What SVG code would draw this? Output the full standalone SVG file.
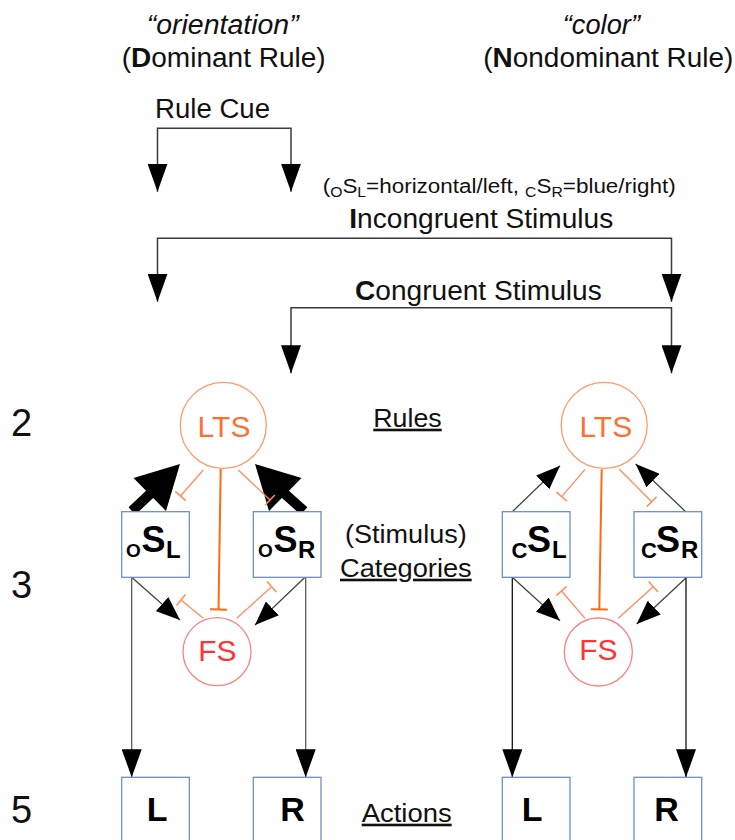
<svg xmlns="http://www.w3.org/2000/svg" width="735" height="840" viewBox="0 0 735 840">
<style>
text{font-family:"Liberation Sans",Arial,sans-serif;fill:#111}
.hd{font-size:27px}
.it{font-style:italic}
.b{font-weight:bold}
.lbl{font-size:26px}
.num{font-size:38px}
.ul{text-decoration:underline}
.ltsC{fill:none;stroke:#ff9966;stroke-width:1.3}
.fsC{fill:none;stroke:#ff7f7f;stroke-width:1.3}
.ltsT{font-size:30px;fill:#ff7030;text-anchor:middle}
.fsT{font-size:30px;fill:#ff3333;text-anchor:middle}
.box{fill:#fff;stroke:#6d8fc6;stroke-width:1.3}
.cat{font-weight:bold;fill:#000}
.act{font-size:34px;font-weight:bold;text-anchor:middle;fill:#000}
.br{fill:none;stroke:#3a3a3a;stroke-width:1.5}
.thin{fill:none;stroke:#444;stroke-width:1.3}
.inh{fill:none;stroke:#ff8c5a;stroke-width:1.3}
.inh2{fill:none;stroke:#ff6a10;stroke-width:2}
</style>
<defs>
<marker id="big" viewBox="0 0 28 20" refX="28" refY="10" markerWidth="28" markerHeight="20" markerUnits="userSpaceOnUse" orient="auto-start-reverse">
<path d="M0,0 L28,10 L0,20 z" fill="#000"/>
</marker>
<marker id="sm" viewBox="0 0 24 19" refX="24" refY="9.5" markerWidth="24" markerHeight="19" markerUnits="userSpaceOnUse" orient="auto">
<path d="M0,0 L24,9.5 L0,19 z" fill="#000"/>
</marker>
<marker id="tb" viewBox="-3 -9 6 18" refX="0" refY="0" markerWidth="6" markerHeight="18" markerUnits="userSpaceOnUse" orient="auto">
<path d="M0,-7 V7" stroke="#ff8c5a" stroke-width="1.5" fill="none"/>
</marker>
<marker id="tb2" viewBox="-3 -10 6 20" refX="0" refY="0" markerWidth="6" markerHeight="20" markerUnits="userSpaceOnUse" orient="auto">
<path d="M0,-8.5 V8.5" stroke="#ff6a10" stroke-width="2" fill="none"/>
</marker>
</defs>

<g id="headers">
<text class="hd it" x="146.7" y="34.3" textLength="152" lengthAdjust="spacingAndGlyphs">“orientation”</text>
<text class="hd" x="121.7" y="67.3" textLength="204" lengthAdjust="spacingAndGlyphs">(<tspan class="b">D</tspan>ominant Rule)</text>
<text class="hd it" x="562.7" y="34.3" textLength="77.3" lengthAdjust="spacingAndGlyphs">“color”</text>
<text class="hd" x="483.3" y="66.7" textLength="250" lengthAdjust="spacingAndGlyphs">(<tspan class="b">N</tspan>ondominant Rule)</text>
<text class="hd" x="155" y="118.3" textLength="115" lengthAdjust="spacingAndGlyphs">Rule Cue</text>
<text style="font-size:20px" x="322.7" y="192.7" textLength="353" lengthAdjust="spacingAndGlyphs">(<tspan style="font-size:14px" dy="4">O</tspan><tspan dy="-4">S</tspan><tspan style="font-size:14px" dy="4">L</tspan><tspan dy="-4">=horizontal/left, </tspan><tspan style="font-size:14px" dy="4">C</tspan><tspan dy="-4">S</tspan><tspan style="font-size:14px" dy="4">R</tspan><tspan dy="-4">=blue/right)</tspan></text>
<text class="hd" x="349.3" y="228.3" textLength="264" lengthAdjust="spacingAndGlyphs"><tspan class="b">I</tspan>ncongruent Stimulus</text>
<text class="hd" x="355" y="300" textLength="246.7" lengthAdjust="spacingAndGlyphs"><tspan class="b">C</tspan>ongruent Stimulus</text>
</g>

<g id="levels">
<text class="num" x="11" y="436">2</text>
<text class="num" x="11" y="598.3">3</text>
<text class="num" x="11" y="823.3">5</text>
<text class="lbl ul" x="373.3" y="426.7" textLength="68.4" lengthAdjust="spacingAndGlyphs">Rules</text>
<text class="lbl" x="345" y="543.3" textLength="121.7" lengthAdjust="spacingAndGlyphs">(Stimulus)</text>
<text class="lbl ul" x="340" y="576.7" textLength="131.7" lengthAdjust="spacingAndGlyphs">Categories</text>
<text class="lbl ul" x="361.7" y="821.7" textLength="90" lengthAdjust="spacingAndGlyphs">Actions</text>
</g>

<g id="connectors">
<path class="br" d="M157.5,191.7 V128.3 H291 V191.7" marker-start="url(#big)" marker-end="url(#big)"/>
<path class="br" d="M157.5,301.7 V238.3 H671.5 V301.7" marker-start="url(#big)" marker-end="url(#big)"/>
<path class="br" d="M291,373.3 V307.7 H671.5 V373.3" marker-start="url(#big)" marker-end="url(#big)"/>

<!-- left cluster thick arrows -->
<line x1="132" y1="511" x2="150" y2="494" stroke="#000" stroke-width="10"/>
<polygon points="180,464 133.5,478 166,511" fill="#000"/>
<line x1="304" y1="511" x2="285" y2="494" stroke="#000" stroke-width="10"/>
<polygon points="255,464 301.5,478 269,511" fill="#000"/>

<!-- left cluster inhibitory -->
<line class="inh" x1="203.3" y1="470" x2="180.5" y2="496" marker-end="url(#tb)"/>
<line class="inh" x1="238.3" y1="470" x2="270" y2="500" marker-end="url(#tb)"/>
<line class="inh2" x1="220.7" y1="469" x2="218.5" y2="609.5" marker-end="url(#tb2)"/>
<line class="inh" x1="203.3" y1="618.3" x2="181" y2="600" marker-end="url(#tb)"/>
<line class="inh" x1="236.7" y1="618.3" x2="271.7" y2="586.7" marker-end="url(#tb)"/>

<!-- left cluster arrows -->
<line class="thin" x1="131.7" y1="577.3" x2="180" y2="620" marker-end="url(#sm)"/>
<line class="thin" x1="305" y1="577.3" x2="255" y2="625" marker-end="url(#sm)"/>
<line class="thin" x1="131.7" y1="577.3" x2="131.7" y2="777.3" marker-end="url(#big)" style="stroke:#5a5a5a"/>
<line class="thin" x1="305.7" y1="577.3" x2="305.7" y2="777.3" marker-end="url(#big)" style="stroke:#5a5a5a"/>

<!-- right cluster arrows -->
<line class="thin" x1="512.3" y1="511.7" x2="560" y2="465.7" marker-end="url(#sm)"/>
<line class="thin" x1="685.7" y1="511.7" x2="635.7" y2="464" marker-end="url(#sm)"/>
<line class="thin" x1="512.3" y1="577.3" x2="560" y2="620.7" marker-end="url(#sm)"/>
<line class="thin" x1="686.7" y1="577.3" x2="636.7" y2="624" marker-end="url(#sm)"/>
<line class="thin" x1="512.3" y1="577.3" x2="512.3" y2="777.3" marker-end="url(#big)" style="stroke:#111"/>
<line class="thin" x1="686" y1="577.3" x2="686" y2="777.3" marker-end="url(#big)" style="stroke:#111"/>

<!-- right cluster inhibitory -->
<line class="inh" x1="585" y1="469.3" x2="561.7" y2="496.7" marker-end="url(#tb)"/>
<line class="inh" x1="619.3" y1="469.3" x2="651.7" y2="501.7" marker-end="url(#tb)"/>
<line class="inh2" x1="601.7" y1="469.3" x2="599.3" y2="609.3" marker-end="url(#tb2)"/>
<line class="inh" x1="585" y1="618.3" x2="561.5" y2="591" marker-end="url(#tb)"/>
<line class="inh" x1="618.3" y1="618.3" x2="653.3" y2="586.7" marker-end="url(#tb)"/>
</g>

<g id="lts-left"><circle class="ltsC" cx="223.3" cy="425.3" r="43"/><text class="ltsT" x="224" y="436.5">LTS</text></g>
<g id="fs-left"><circle class="fsC" cx="217" cy="651.7" r="34"/><text class="fsT" x="217.3" y="660.5">FS</text></g>
<g id="lts-right"><circle class="ltsC" cx="604.2" cy="425.3" r="43"/><text class="ltsT" x="605.8" y="436.5">LTS</text></g>
<g id="fs-right"><circle class="fsC" cx="598.3" cy="652" r="34"/><text class="fsT" x="598.3" y="660">FS</text></g>

<g id="oSL"><rect class="box" x="121.7" y="511.7" width="67.6" height="65.6"/>
<text class="cat"><tspan x="126" y="557" font-size="19">O</tspan><tspan x="141.5" y="552" font-size="36">S</tspan><tspan x="166" y="558" font-size="24">L</tspan></text></g>
<g id="oSR"><rect class="box" x="253.3" y="511.7" width="67.7" height="65.6"/>
<text class="cat"><tspan x="258" y="557" font-size="19">O</tspan><tspan x="273.5" y="552" font-size="36">S</tspan><tspan x="298" y="558" font-size="24">R</tspan></text></g>
<g id="cSL"><rect class="box" x="502.3" y="511.7" width="67.7" height="65.6"/>
<text class="cat"><tspan x="511.5" y="558" font-size="22">C</tspan><tspan x="527" y="552" font-size="36">S</tspan><tspan x="552" y="558" font-size="24">L</tspan></text></g>
<g id="cSR"><rect class="box" x="634" y="511.7" width="67.7" height="65.6"/>
<text class="cat"><tspan x="641" y="558" font-size="22">C</tspan><tspan x="656" y="552" font-size="36">S</tspan><tspan x="681" y="558" font-size="24">R</tspan></text></g>

<g id="actL1"><rect class="box" x="121.7" y="777.3" width="67.6" height="72"/><text class="act" x="157.2" y="821">L</text></g>
<g id="actR1"><rect class="box" x="253.3" y="777.3" width="67.7" height="72"/><text class="act" x="292.5" y="821">R</text></g>
<g id="actL2"><rect class="box" x="502.3" y="777.3" width="67.7" height="72"/><text class="act" x="532.2" y="821">L</text></g>
<g id="actR2"><rect class="box" x="634" y="777.3" width="67.7" height="72"/><text class="act" x="666.5" y="821">R</text></g>
</svg>
